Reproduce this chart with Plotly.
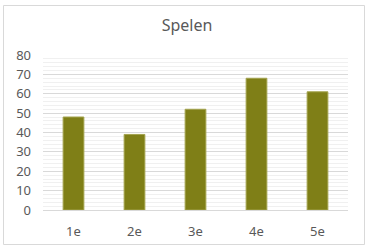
import plotly.graph_objects as go

categories = ["1e", "2e", "3e", "4e", "5e"]
values = [48, 39, 52, 68, 61]
title_text = "Spelen"

W, H = 374, 251
ml, mr, mt, mb = 43, 26, 55, 41
pw, ph = W - ml - mr, H - mt - mb

def px_x(x):
    return (x - ml) / pw

def px_y(y):
    return (H - mb - y) / ph

fig = go.Figure(go.Bar(
    x=categories, y=values,
    marker=dict(color="#7f7f17", line=dict(color="#a3a34d", width=1)),
    width=0.34,
))

fig.update_layout(
    width=W, height=H,
    margin=dict(l=ml, r=mr, t=mt, b=mb),
    paper_bgcolor="white", plot_bgcolor="white",
    showlegend=False,
    font=dict(family="Noto Sans, Open Sans, sans-serif", color="#595959", size=13),
    title=dict(text=title_text, x=0.5, xanchor="center", y=1 - 25 / H, yanchor="middle",
               font=dict(size=16, color="#595959")),
    bargap=0.66,
)
fig.update_yaxes(
    range=[0, 80], dtick=10, showgrid=True, gridcolor="#d9d9d9", gridwidth=1,
    minor=dict(dtick=2, showgrid=True, gridcolor="#f0f0f0", gridwidth=1),
    zeroline=False, ticks="", tickfont=dict(size=13, color="#595959"),
    ticklabelstandoff=11,
    fixedrange=True,
)
fig.update_xaxes(
    showgrid=False, showline=True, linecolor="#d9d9d9", linewidth=1,
    ticks="", tickfont=dict(size=13, color="#595959"),
    ticklabelstandoff=9,
)
fig.add_shape(
    type="rect", xref="paper", yref="paper",
    x0=px_x(3.5), x1=px_x(364.5), y0=px_y(244.5), y1=px_y(5.5),
    line=dict(color="#d9d9d9", width=1), layer="below",
)

fig.write_html("out.html")
